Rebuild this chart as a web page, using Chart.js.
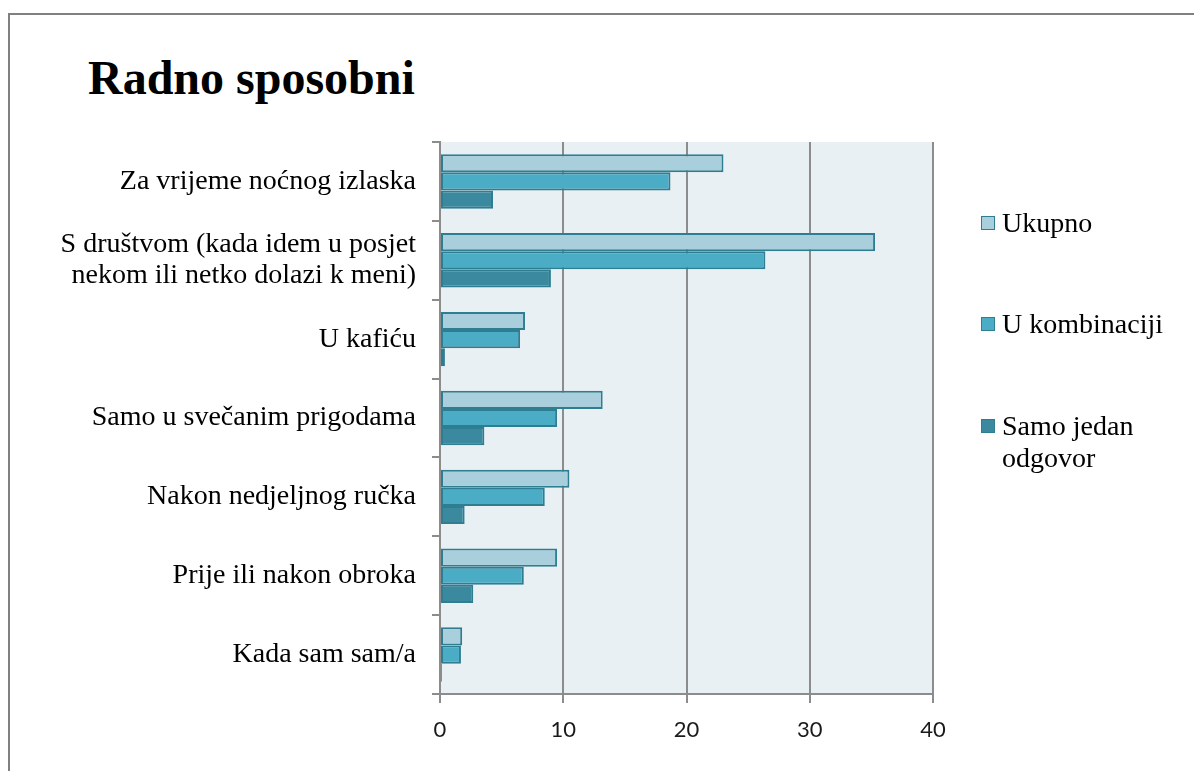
<!DOCTYPE html>
<html>
<head>
<meta charset="utf-8">
<script src="https://cdn.jsdelivr.net/npm/chart.js@4.4.1/dist/chart.umd.min.js"></script>
<style>
  html, body { margin: 0; padding: 0; background: #ffffff; }
  #wrap { position: relative; width: 1194px; height: 771px; overflow: hidden; }
  #frame { position: absolute; left: 8px; top: 13px; width: 1200px; height: 800px;
           border-top: 2px solid #808080; border-left: 2px solid #808080; }
  #title { position: absolute; left: 88px; top: 54px; font-family: "Liberation Serif", "Times New Roman", serif;
           font-weight: bold; font-size: 48px; line-height: 48px; color: #000; white-space: nowrap; }
  canvas { position: absolute; left: 0; top: 0; }
  .lg { position: absolute; left: 1002px; font-family: "Liberation Serif", "Times New Roman", serif;
        font-size: 28px; line-height: 32px; color: #000; white-space: nowrap; }
  .sw { position: absolute; left: 981px; width: 12px; height: 12px; border: 1.5px solid #2E7D91; }
</style>
</head>
<body>
<div id="wrap">
  <div id="frame"></div>
  <div id="title">Radno sposobni</div>
  <canvas id="c" width="1194" height="771"></canvas>
  <div id="legend"></div>
</div>
<script>
const categories = [
  "Za vrijeme noćnog izlaska",
  ["S društvom (kada idem u posjet", "nekom ili netko dolazi k meni)"],
  "U kafiću",
  "Samo u svečanim prigodama",
  "Nakon nedjeljnog ručka",
  "Prije ili nakon obroka",
  "Kada sam sam/a"
];
const seriesNames = ["Ukupno", "U kombinaciji", ["Samo jedan", "odgovor"]];
const ukupno       = [23.0, 35.3, 6.9, 13.2, 10.5, 9.5, 1.8];
const uKombinaciji = [18.7, 26.4, 6.5, 9.5, 8.5, 6.8, 1.7];
const samoJedan    = [4.3, 9.0, 0.4, 3.6, 2.0, 2.7, 0.15];
const xTicks = [0, 10, 20, 30, 40];

const fills = ["#A9CFDC", "#4BACC6", "#3A899E"];
const borderCol = "#2E7D91";
const gridCol = "#8C8C8C";

const plotBg = {
  id: "plotBg",
  beforeDraw(chart) {
    const a = chart.chartArea, ctx = chart.ctx;
    ctx.save();
    ctx.fillStyle = "#E9F0F3";
    ctx.fillRect(a.left, a.top, a.right - a.left, a.bottom - a.top);
    ctx.restore();
  }
};

const seriesData = [ukupno, uKombinaciji, samoJedan];
new Chart(document.getElementById("c"), {
  type: "bar",
  data: {
    labels: categories,
    datasets: seriesData.map((d, i) => ({
      label: Array.isArray(seriesNames[i]) ? seriesNames[i].join(" ") : seriesNames[i],
      data: d,
      backgroundColor: fills[i],
      borderColor: borderCol,
      borderWidth: 2,
      borderSkipped: false,
      categoryPercentage: 0.69,
      barPercentage: 1.0
    }))
  },
  options: {
    indexAxis: "y",
    responsive: false,
    animation: false,
    layout: { padding: { top: 142, right: 261, left: 0, bottom: 0 } },
    plugins: { legend: { display: false }, title: { display: false }, tooltip: { enabled: false } },
    scales: {
      x: {
        min: 0, max: 40,
        afterFit(s) { s.height = 77; },
        afterBuildTicks(s) { s.ticks = xTicks.map(v => ({ value: v })); },
        grid: { color: gridCol, lineWidth: 2, drawOnChartArea: true, drawTicks: true, tickLength: 9, tickColor: gridCol },
        border: { display: true, color: gridCol, width: 2 },
        ticks: { color: "#1a1a1a", padding: 14, font: { family: "Lato, 'Open Sans', sans-serif", size: 22 } }
      },
      y: {
        afterFit(s) { s.width = 440; },
        grid: { display: true, offset: true, drawOnChartArea: false, drawTicks: true, tickLength: 8, color: gridCol, lineWidth: 2 },
        border: { display: true, color: gridCol, width: 2 },
        ticks: { color: "#000", padding: 16, font: { family: "'Liberation Serif', 'Times New Roman', serif", size: 28, lineHeight: 1.1 } }
      }
    }
  },
  plugins: [plotBg]
});

// legend
const legendTops = [207, 308, 410];
const lg = document.getElementById("legend");
seriesNames.forEach((n, i) => {
  const sw = document.createElement("div");
  sw.className = "sw";
  sw.style.top = (legendTops[i] + 9) + "px";
  sw.style.background = fills[i];
  lg.appendChild(sw);
  const t = document.createElement("div");
  t.className = "lg";
  t.style.top = legendTops[i] + "px";
  t.innerHTML = Array.isArray(n) ? n.join("<br>") : n;
  lg.appendChild(t);
});
</script>
</body>
</html>
